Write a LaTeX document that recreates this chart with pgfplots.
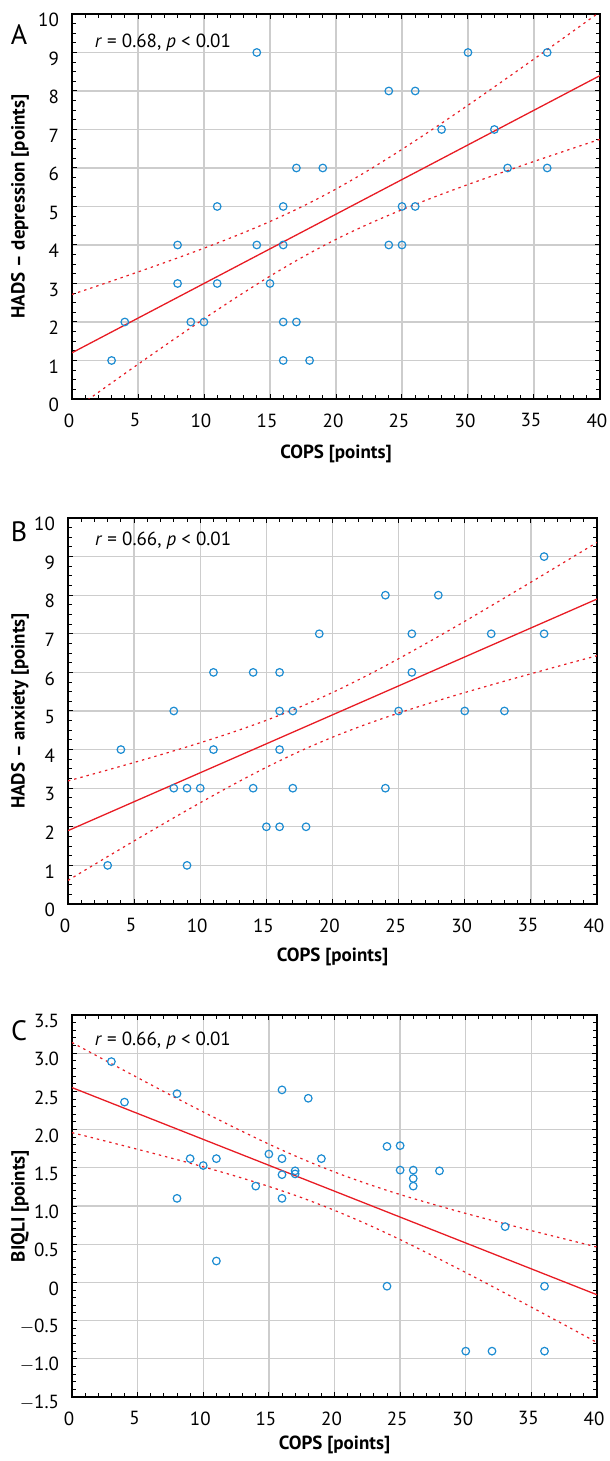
\documentclass[border=0pt]{standalone}
\usepackage{fontspec}
\setmainfont{PT Sans}
\usepackage{pgfplots}
\pgfplotsset{compat=1.18}

\definecolor{ptblue}{RGB}{28,140,210}
\definecolor{fitred}{RGB}{232,28,36}
\definecolor{gridgray}{RGB}{205,205,205}

\pgfplotsset{
  panel/.style={
    scale only axis,
    anchor=south west,
    xmin=0, xmax=40,
    xtick={0,5,...,40},
    minor x tick num=4,
    grid=major,
    major grid style={gridgray, line width=0.65pt},
    axis line style={line width=0.8pt},
    tick align=inside,
    major tick length=2.5pt, minor tick length=2pt,
    tick style={black, line width=0.5pt},
    /pgf/number format/assume math mode=true,
    tick label style={font=\fontsize{9.5}{11}\selectfont},
    xticklabel style={yshift=-3.8pt, xshift=-1.5pt},
    yticklabel style={yshift=-3pt, xshift=-3pt},
    label style={font=\fontsize{9.5}{11}\selectfont\bfseries},
    xlabel={COPS [points]},
  },
  pts/.style={only marks, mark=o, mark size=1.9pt, mark options={ptblue, line width=0.6pt}},
  fit/.style={fitred, line width=0.65pt, no marks},
  ci/.style={fitred, line width=0.6pt, dash pattern=on 1.2pt off 2pt, no marks, smooth},
}

\begin{document}
\begin{tikzpicture}
\useasboundingbox (0,0) rectangle (305pt,730.5pt);

% A: depression
\begin{axis}[panel,
  at={(36pt,531pt)}, width=264pt, height=192.5pt,
  ymin=0, ymax=10, ytick={0,...,10}, minor y tick num=3,
  ylabel={HADS – depression [points]},
  xlabel style={at={(axis description cs:0.5,-0.143)}, anchor=center},
  ylabel style={at={(axis description cs:-0.0985,0.5)}, anchor=center, rotate=0},
]
\addplot[ci] coordinates {(0,2.715)(2.5,3.004)(5,3.299)(7.5,3.602)(10,3.917)(12.5,4.25)(15,4.61)(17.5,5.008)(20,5.454)(22.5,5.949)(25,6.484)(27.5,7.047)(30,7.63)(32.5,8.226)(35,8.83)(37.5,9.44)(40,10.055)};
\addplot[ci] coordinates {(0,-0.315)(2.5,0.296)(5,0.901)(7.5,1.498)(10,2.083)(12.5,2.65)(15,3.19)(17.5,3.692)(20,4.146)(22.5,4.551)(25,4.916)(27.5,5.253)(30,5.57)(32.5,5.874)(35,6.17)(37.5,6.46)(40,6.745)};
\addplot[fit] coordinates {(0,1.2)(40,8.4)};
\addplot[pts] coordinates {(3,1)(4,2)(8,4)(8,3)(9,2)(10,2)(11,5)(11,3)(14,9)(14,4)(15,3)(16,5)(16,4)(16,2)(16,1)(17,6)(17,2)(18,1)(19,6)(24,8)(24,4)(25,5)(25,4)(26,8)(26,5)(28,7)(30,9)(32,7)(33,6)(36,9)(36,6)};
\node[anchor=base west, font=\fontsize{9.5}{11}\selectfont] at (axis description cs:0.030,0.914) {\textit{r} = 0.68, \textit{p} < 0.01};
\end{axis}

% B: anxiety
\begin{axis}[panel,
  at={(34pt,278.5pt)}, width=264.5pt, height=193pt,
  ymin=0, ymax=10, ytick={0,...,10}, minor y tick num=3,
  ylabel={HADS – anxiety [points]},
  xlabel style={at={(axis description cs:0.5,-0.137)}, anchor=center},
  ylabel style={at={(axis description cs:-0.0907,0.5)}, anchor=center, rotate=0},
]
\addplot[ci] coordinates {(0,3.188)(2.5,3.424)(5,3.666)(7.5,3.916)(10,4.177)(12.5,4.455)(15,4.759)(17.5,5.098)(20,5.479)(22.5,5.9)(25,6.354)(27.5,6.831)(30,7.323)(32.5,7.826)(35,8.336)(37.5,8.85)(40,9.368)};
\addplot[ci] coordinates {(0,0.612)(2.5,1.126)(5,1.634)(7.5,2.134)(10,2.623)(12.5,3.095)(15,3.541)(17.5,3.952)(20,4.321)(22.5,4.65)(25,4.946)(27.5,5.219)(30,5.477)(32.5,5.724)(35,5.964)(37.5,6.2)(40,6.432)};
\addplot[fit] coordinates {(0,1.9)(40,7.9)};
\addplot[pts] coordinates {(3,1)(4,4)(8,5)(8,3)(9,3)(9,1)(10,3)(11,6)(11,4)(14,6)(14,3)(15,2)(16,6)(16,5)(16,4)(16,2)(17,5)(17,3)(18,2)(19,7)(24,8)(24,3)(25,5)(26,7)(26,6)(28,8)(30,5)(32,7)(33,5)(36,9)(36,7)};
\node[anchor=base west, font=\fontsize{9.5}{11}\selectfont] at (axis description cs:0.038,0.930) {\textit{r} = 0.66, \textit{p} < 0.01};
\end{axis}

% C: BIQLI
\begin{axis}[panel,
  at={(36pt,32pt)}, width=262.5pt, height=191pt,
  ymin=-1.5, ymax=3.5, ytick={-1.5,-1,...,3.5}, minor y tick num=4,
  yticklabels={$-$1.5,$-$1.0,$-$0.5,0,0.5,1.0,1.5,2.0,2.5,3.0,3.5},
  ylabel={BIQLI [points]},
  xlabel style={at={(axis description cs:0.5,-0.126)}, anchor=center},
  ylabel style={at={(axis description cs:-0.099,0.5)}, anchor=center, rotate=0},
]
\addplot[ci] coordinates {(0,3.14)(2.5,2.909)(5,2.68)(7.5,2.453)(10,2.231)(12.5,2.016)(15,1.81)(17.5,1.619)(20,1.445)(22.5,1.29)(25,1.15)(27.5,1.023)(30,0.903)(32.5,0.789)(35,0.678)(37.5,0.57)(40,0.463)};
\addplot[ci] coordinates {(0,1.96)(2.5,1.852)(5,1.742)(7.5,1.63)(10,1.513)(12.5,1.389)(15,1.256)(17.5,1.109)(20,0.943)(22.5,0.76)(25,0.56)(27.5,0.348)(30,0.129)(32.5,-0.096)(35,-0.324)(37.5,-0.554)(40,-0.787)};
\addplot[fit] coordinates {(0,2.55)(40,-0.162)};
\addplot[pts] coordinates {(3,2.89)(4,2.36)(8,2.47)(8,1.10)(9,1.62)(10,1.53)(11,1.62)(11,0.28)(14,1.26)(15,1.68)(16,2.52)(16,1.62)(16,1.41)(16,1.10)(17,1.46)(17,1.42)(18,2.41)(19,1.62)(24,1.78)(24,-0.05)(25,1.79)(25,1.47)(26,1.47)(26,1.36)(26,1.26)(28,1.46)(30,-0.90)(32,-0.90)(33,0.73)(36,-0.05)(36,-0.90)};
\node[anchor=base west, font=\fontsize{9.5}{11}\selectfont] at (axis description cs:0.030,0.921) {\textit{r} = 0.66, \textit{p} < 0.01};
\end{axis}

% panel letters
\node[font=\fontsize{14}{16}\selectfont] at (9.5pt,713pt) {A};
\node[font=\fontsize{14}{16}\selectfont] at (9.5pt,464.5pt) {B};
\node[font=\fontsize{14}{16}\selectfont] at (9.5pt,215pt) {C};
\end{tikzpicture}
\end{document}
